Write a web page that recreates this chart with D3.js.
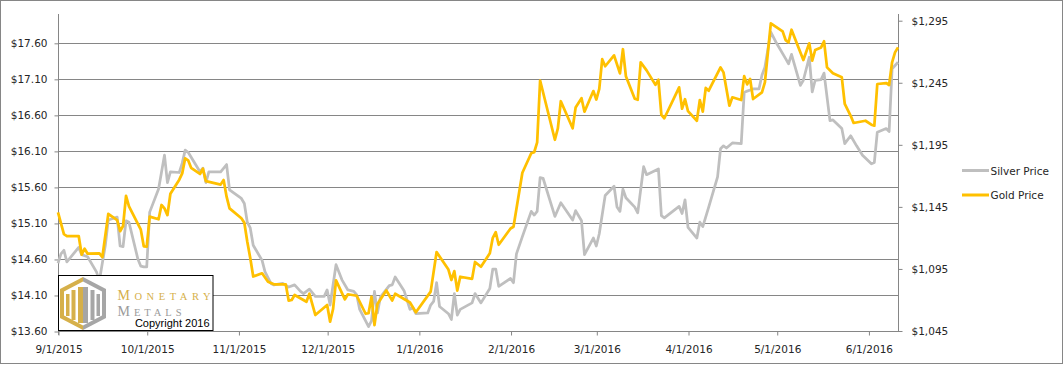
<!DOCTYPE html>
<html>
<head>
<meta charset="utf-8">
<title>Silver and Gold Price</title>
<style>
  body { margin: 0; background: #fff; }
  svg { display: block; }
  .tick text { font-family: "DejaVu Sans", sans-serif; font-size: 10.5px; fill: #262626; }
</style>
<script src="https://d3js.org/d3.v7.min.js"></script>
</head>
<body>
<script>

// ---- data ----
const silverDates = [
  "2015-09-01","2015-09-02","2015-09-03","2015-09-04","2015-09-08","2015-09-09","2015-09-11","2015-09-14","2015-09-15","2015-09-17",
  "2015-09-18","2015-09-21","2015-09-22","2015-09-23","2015-09-24","2015-09-25","2015-09-28","2015-09-29","2015-09-30","2015-10-01",
  "2015-10-02","2015-10-05","2015-10-07","2015-10-08","2015-10-09","2015-10-12","2015-10-13","2015-10-14","2015-10-15","2015-10-19",
  "2015-10-20","2015-10-21","2015-10-22","2015-10-26","2015-10-28","2015-10-29","2015-11-02","2015-11-03","2015-11-04","2015-11-05",
  "2015-11-06","2015-11-09","2015-11-10","2015-11-12","2015-11-13","2015-11-16","2015-11-18","2015-11-20","2015-11-22","2015-11-23",
  "2015-11-25","2015-11-27","2015-11-30","2015-12-01","2015-12-02","2015-12-04","2015-12-06","2015-12-08","2015-12-10","2015-12-11",
  "2015-12-12","2015-12-15","2015-12-16","2015-12-17","2015-12-18","2015-12-19","2015-12-22","2015-12-23","2015-12-24","2015-12-27",
  "2015-12-29","2015-12-30","2015-12-31","2016-01-04","2016-01-05","2016-01-06","2016-01-07","2016-01-08","2016-01-11","2016-01-12",
  "2016-01-13","2016-01-14","2016-01-15","2016-01-19","2016-01-20","2016-01-22","2016-01-25","2016-01-26","2016-01-27","2016-01-28",
  "2016-02-01","2016-02-02","2016-02-03","2016-02-05","2016-02-08","2016-02-09","2016-02-10","2016-02-11","2016-02-12","2016-02-16",
  "2016-02-18","2016-02-22","2016-02-23","2016-02-25","2016-02-26","2016-02-29","2016-03-01","2016-03-02","2016-03-04","2016-03-07",
  "2016-03-08","2016-03-09","2016-03-10","2016-03-11","2016-03-14","2016-03-15","2016-03-17","2016-03-18","2016-03-22","2016-03-23",
  "2016-03-24","2016-03-29","2016-03-30","2016-03-31","2016-04-01","2016-04-04","2016-04-05","2016-04-06","2016-04-08","2016-04-11",
  "2016-04-12","2016-04-13","2016-04-14","2016-04-16","2016-04-19","2016-04-20","2016-04-21","2016-04-23","2016-04-25","2016-04-26",
  "2016-04-27","2016-04-29","2016-05-01","2016-05-04","2016-05-05","2016-05-06","2016-05-09","2016-05-10","2016-05-12","2016-05-13",
  "2016-05-14","2016-05-16","2016-05-17","2016-05-19","2016-05-20","2016-05-23","2016-05-24","2016-05-26","2016-05-28","2016-05-30",
  "2016-06-02","2016-06-03","2016-06-04","2016-06-07","2016-06-08","2016-06-09","2016-06-11"
];
const silverPrices = [
  14.54,14.67,14.72,14.56,14.76,14.66,14.63,14.42,14.30,14.79,
  15.14,15.18,14.78,14.77,15.13,15.11,14.60,14.50,14.49,14.49,
  15.25,15.57,16.04,15.66,15.81,15.80,15.93,16.11,16.08,15.81,
  15.86,15.66,15.81,15.81,15.91,15.56,15.44,15.37,15.11,15.03,
  14.79,14.58,14.42,14.26,14.24,14.26,14.21,14.24,14.15,14.12,
  14.18,14.08,14.08,14.17,13.96,14.52,14.31,14.17,14.15,14.10,
  13.90,13.66,13.74,14.15,13.85,14.07,14.23,14.24,14.35,14.16,
  13.90,13.92,13.84,13.85,13.96,14.01,14.27,13.94,13.84,13.76,
  14.12,13.82,13.90,13.99,14.12,13.99,14.19,14.46,14.46,14.22,
  14.33,14.27,14.67,14.91,15.26,15.21,15.26,15.73,15.72,15.19,
  15.38,15.14,15.27,15.13,14.66,14.89,14.78,14.95,15.48,15.61,
  15.32,15.26,15.57,15.45,15.32,15.24,15.88,15.77,15.85,15.20,
  15.17,15.33,15.23,15.42,15.04,14.89,15.11,15.05,15.32,15.74,
  16.13,16.17,16.14,16.21,16.20,16.91,16.93,16.96,16.96,17.15,
  17.26,17.75,17.59,17.38,17.31,17.44,17.01,17.08,17.40,16.92,
  17.08,17.09,17.18,16.52,16.53,16.41,16.20,16.31,16.17,16.04,
  15.92,15.94,16.36,16.41,16.37,17.24,17.33
];

const goldDates = [
  "2015-09-01","2015-09-03","2015-09-04","2015-09-08","2015-09-09","2015-09-10","2015-09-11","2015-09-15","2015-09-16","2015-09-18",
  "2015-09-21","2015-09-22","2015-09-23","2015-09-24","2015-09-25","2015-09-29","2015-09-30","2015-10-01","2015-10-02","2015-10-05",
  "2015-10-06","2015-10-07","2015-10-08","2015-10-09","2015-10-12","2015-10-13","2015-10-14","2015-10-15","2015-10-16","2015-10-19",
  "2015-10-20","2015-10-21","2015-10-26","2015-10-27","2015-10-28","2015-10-29","2015-11-02","2015-11-03","2015-11-04","2015-11-05",
  "2015-11-06","2015-11-09","2015-11-11","2015-11-13","2015-11-17","2015-11-18","2015-11-19","2015-11-20","2015-11-24","2015-11-25",
  "2015-11-27","2015-12-01","2015-12-02","2015-12-03","2015-12-04","2015-12-07","2015-12-08","2015-12-11","2015-12-14","2015-12-15",
  "2015-12-16","2015-12-17","2015-12-18","2015-12-21","2015-12-23","2015-12-24","2015-12-29","2015-12-31","2016-01-05","2016-01-07",
  "2016-01-11","2016-01-12","2016-01-13","2016-01-14","2016-01-15","2016-01-19","2016-01-20","2016-01-22","2016-01-25","2016-01-26",
  "2016-01-27","2016-01-28","2016-02-01","2016-02-02","2016-02-05","2016-02-08","2016-02-09","2016-02-10","2016-02-11","2016-02-16",
  "2016-02-17","2016-02-18","2016-02-22","2016-02-23","2016-02-25","2016-02-26","2016-02-29","2016-03-01","2016-03-02","2016-03-03",
  "2016-03-04","2016-03-07","2016-03-09","2016-03-10","2016-03-11","2016-03-14","2016-03-15","2016-03-16","2016-03-18","2016-03-21",
  "2016-03-22","2016-03-23","2016-03-24","2016-03-29","2016-03-30","2016-03-31","2016-04-01","2016-04-04","2016-04-05","2016-04-06",
  "2016-04-07","2016-04-08","2016-04-12","2016-04-13","2016-04-15","2016-04-16","2016-04-19","2016-04-20","2016-04-21","2016-04-22",
  "2016-04-23","2016-04-26","2016-04-27","2016-04-29","2016-05-03","2016-05-04","2016-05-05","2016-05-06","2016-05-10","2016-05-12",
  "2016-05-13","2016-05-14","2016-05-16","2016-05-17","2016-05-18","2016-05-20","2016-05-23","2016-05-24","2016-05-26","2016-05-27",
  "2016-05-31","2016-06-02","2016-06-03","2016-06-04","2016-06-07","2016-06-08","2016-06-09","2016-06-10","2016-06-11"
];
const goldPrices = [
  1140.5,1123.0,1121.5,1121.5,1106.6,1111.3,1107.3,1107.6,1104.6,1139.3,
  1134.4,1125.4,1129.6,1153.8,1145.5,1126.6,1113.2,1113.0,1137.1,1135.0,
  1146.5,1143.8,1138.4,1155.6,1166.9,1172.0,1184.1,1182.5,1176.5,1171.5,
  1175.7,1165.7,1163.0,1166.6,1153.2,1143.8,1135.8,1132.2,1116.9,1103.8,
  1088.9,1091.5,1084.7,1082.6,1082.6,1069.4,1070.0,1074.0,1068.6,1075.0,
  1057.9,1065.9,1052.5,1062.7,1085.8,1070.5,1074.6,1073.4,1058.9,1059.3,
  1072.6,1049.8,1066.8,1077.6,1069.6,1075.0,1068.0,1060.1,1076.7,1108.6,
  1094.5,1086.1,1093.2,1077.6,1088.7,1087.0,1100.6,1096.8,1107.6,1120.1,
  1124.6,1114.5,1127.6,1129.0,1172.5,1188.2,1189.0,1196.9,1246.8,1199.1,
  1208.3,1230.1,1208.3,1225.0,1232.5,1221.7,1238.3,1231.5,1240.0,1264.0,
  1258.3,1267.1,1252.6,1272.0,1250.3,1232.1,1231.3,1261.5,1255.0,1243.3,
  1247.4,1219.2,1216.4,1241.3,1224.1,1231.7,1222.1,1214.4,1231.1,1221.7,
  1240.8,1238.6,1257.4,1253.4,1226.5,1233.3,1231.1,1250.3,1243.7,1248.0,
  1231.9,1237.3,1245.4,1292.9,1286.4,1279.4,1277.6,1287.7,1263.3,1276.8,
  1262.8,1271.4,1273.5,1278.4,1257.4,1252.6,1249.4,1227.9,1218.4,1212.6,
  1214.4,1211.2,1210.4,1244.0,1244.8,1243.2,1261.5,1269.5,1273.5
];

const silverTicks = [13.60, 14.10, 14.60, 15.10, 15.60, 16.10, 16.60, 17.10, 17.60];
const goldTicks = [1045, 1095, 1145, 1195, 1245, 1295];
const monthTicks = ["2015-09-01","2015-10-01","2015-11-01","2015-12-01","2016-01-01",
                    "2016-02-01","2016-03-01","2016-04-01","2016-05-01","2016-06-01"];
const seriesNames = ["Silver Price", "Gold Price"];
const seriesColors = ["#bfbfbf", "#ffc000"];

// ---- layout ----
const W = 1064, H = 365;
const plot = {left: 58, right: 898, top: 14, bottom: 331};
const axisColor = "#868686";

const parse = d3.utcParse("%Y-%m-%d");

const svg = d3.select("body").append("svg")
  .attr("width", W).attr("height", H);

svg.append("rect")
  .attr("x", 0.5).attr("y", 0.5).attr("width", W - 2).attr("height", H - 2)
  .attr("fill", "#fff").attr("stroke", axisColor);

const x = d3.scaleUtc()
  .domain([parse("2015-09-01"), parse("2016-06-11")])
  .range([plot.left, plot.right]);
const ySilver = d3.scaleLinear().domain([13.6, 18.0]).range([plot.bottom, plot.top]);
const yGold = d3.scaleLinear().domain([1045, 1300.4]).range([plot.bottom, plot.top]);

// gridlines follow the left axis
svg.append("g").selectAll("line").data(silverTicks.slice(1)).join("line")
  .attr("x1", plot.left).attr("x2", plot.right)
  .attr("y1", d => Math.round(ySilver(d)) + 0.5)
  .attr("y2", d => Math.round(ySilver(d)) + 0.5)
  .attr("stroke", axisColor).attr("stroke-width", 1);

// axes
function styleAxis(g) {
  g.select(".domain").remove();
  g.selectAll(".tick line").attr("stroke", axisColor);
}

svg.append("g")
  .attr("transform", `translate(${plot.left + 0.5},0.5)`)
  .call(d3.axisLeft(ySilver).tickValues(silverTicks).tickSize(4).tickPadding(7)
    .tickFormat(d => "$" + d3.format(".2f")(d)))
  .call(styleAxis);

svg.append("g")
  .attr("transform", `translate(${plot.right + 0.5},0)`)
  .call(d3.axisRight(yGold).tickValues(goldTicks).tickSize(4).tickPadding(9)
    .tickFormat(d => "$" + d3.format(",")(d)))
  .call(styleAxis);

svg.append("g")
  .attr("transform", `translate(0.5,${plot.bottom + 0.5})`)
  .call(d3.axisBottom(x).tickValues(monthTicks.map(parse)).tickSize(4).tickPadding(10)
    .tickFormat(d3.utcFormat("%-m/%-d/%Y")))
  .call(styleAxis);

// axis lines
svg.append("line")
  .attr("x1", plot.left + 0.5).attr("x2", plot.left + 0.5)
  .attr("y1", plot.top).attr("y2", plot.bottom + 4)
  .attr("stroke", axisColor);
svg.append("line")
  .attr("x1", plot.right + 0.5).attr("x2", plot.right + 0.5)
  .attr("y1", plot.top).attr("y2", plot.bottom + 1)
  .attr("stroke", axisColor);
svg.append("line")
  .attr("x1", plot.left).attr("x2", plot.right + 1)
  .attr("y1", plot.bottom + 0.5).attr("y2", plot.bottom + 0.5)
  .attr("stroke", axisColor);

// series
const silverData = silverDates.map((d, i) => ({date: parse(d), value: silverPrices[i]}));
const goldData = goldDates.map((d, i) => ({date: parse(d), value: goldPrices[i]}));

svg.append("path")
  .datum(silverData)
  .attr("fill", "none")
  .attr("stroke", seriesColors[0])
  .attr("stroke-width", 2.75)
  .attr("stroke-linejoin", "round")
  .attr("d", d3.line().x(d => x(d.date)).y(d => ySilver(d.value)));

svg.append("path")
  .datum(goldData)
  .attr("fill", "none")
  .attr("stroke", seriesColors[1])
  .attr("stroke-width", 2.75)
  .attr("stroke-linejoin", "round")
  .attr("d", d3.line().x(d => x(d.date)).y(d => yGold(d.value)));

// legend
const legend = svg.append("g");
seriesNames.forEach((name, i) => {
  const ly = 170.5 + i * 24.5;
  legend.append("line")
    .attr("x1", 962).attr("x2", 989).attr("y1", ly).attr("y2", ly)
    .attr("stroke", seriesColors[i]).attr("stroke-width", 3);
  legend.append("text")
    .attr("x", 990.5).attr("y", ly + 4)
    .attr("font-family", "DejaVu Sans, sans-serif").attr("font-size", "10.5px")
    .attr("fill", "#262626")
    .text(name);
});

// logo box
const logo = svg.append("g");
logo.append("rect")
  .attr("x", 58.5).attr("y", 275.5).attr("width", 154.5).attr("height", 55)
  .attr("fill", "#fff").attr("stroke", "#000");

const goldTone = "#d6b04a", grayTone = "#a6a6a6";
logo.append("polygon")
  .attr("points", "83,277 83,330 60,318 60,289")
  .attr("fill", goldTone);
logo.append("polygon")
  .attr("points", "83,277 106,289 106,318 83,330")
  .attr("fill", grayTone);
logo.append("polygon")
  .attr("points", "83,281.5 102,291.5 102,315.5 83,325.5 64,315.5 64,291.5")
  .attr("fill", "#fff");
// pillars
[[66, 294, 3.5, 22], [71.5, 290, 4, 30], [78, 287, 5, 36]].forEach(b => {
  logo.append("rect").attr("x", b[0]).attr("y", b[1]).attr("width", b[2]).attr("height", b[3])
    .attr("fill", goldTone);
});
[[83, 287, 5, 36], [90.5, 290, 4, 30], [96.5, 294, 3.5, 22]].forEach(b => {
  logo.append("rect").attr("x", b[0]).attr("y", b[1]).attr("width", b[2]).attr("height", b[3])
    .attr("fill", grayTone);
});

function smallCaps(y, word, width, color) {
  const t = logo.append("text")
    .attr("x", 117.5).attr("y", y)
    .attr("font-family", "Liberation Serif, serif")
    .attr("textLength", width).attr("lengthAdjust", "spacing")
    .attr("fill", color);
  t.append("tspan").attr("font-size", "14px").text(word[0]);
  t.append("tspan").attr("font-size", "10.5px").text(word.slice(1));
}
smallCaps(299.5, "MONETARY", 93, goldTone);
smallCaps(315.5, "METALS", 64, "#9b9b9b");

logo.append("text")
  .attr("x", 209.5).attr("y", 327)
  .attr("text-anchor", "end")
  .attr("font-family", "Liberation Sans, Arial, sans-serif").attr("font-size", "11px")
  .attr("fill", "#000")
  .text("Copyright 2016");

</script>
</body>
</html>
